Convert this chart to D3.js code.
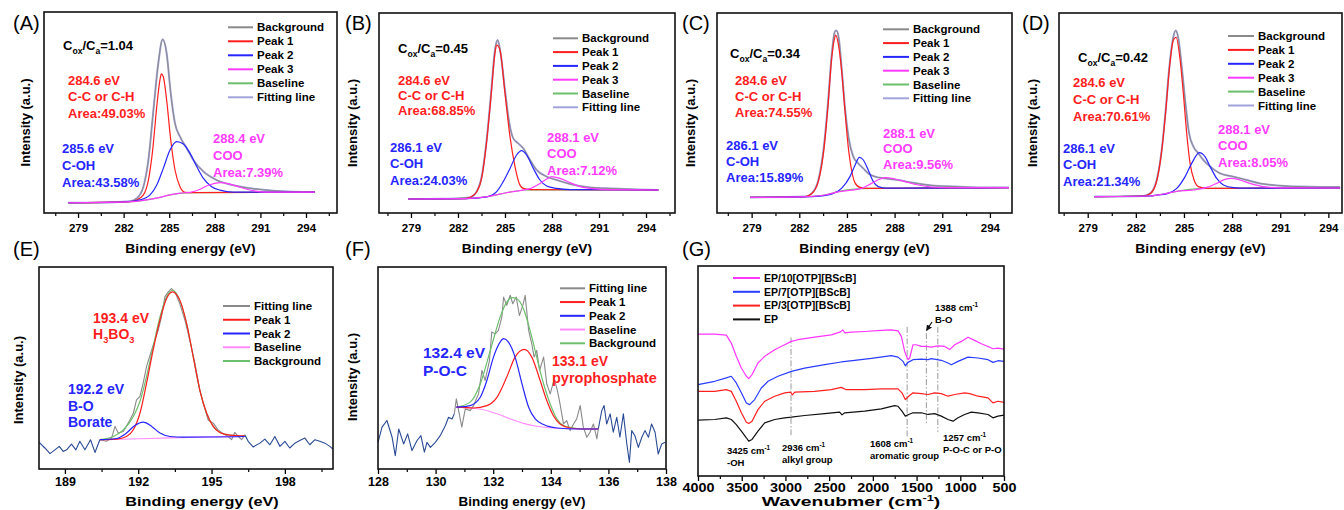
<!DOCTYPE html>
<html>
<head>
<meta charset="utf-8">
<script src="https://cdn.jsdelivr.net/npm/d3@7"></script>
<style>
  body { margin: 0; background: #fff; }
  svg { display: block; font-family: "Liberation Sans", Arial, sans-serif; }
</style>
</head>
<body>
<div id="chart"></div>
<script>
// ---------- data ----------
// XPS C1s panels (A-D): [binding energy eV, intensity a.u.]
const xpsTicks = [279, 282, 285, 288, 291, 294];
const xpsMinor = [277.5, 280.5, 283.5, 286.5, 289.5, 292.5, 295.5];

const aMeasured = [[278.36,5.1],[280.45,5.1],[282.42,5.8],[282.86,7.3],[283.3,13.1],[283.63,26.4],[283.96,51.2],[284.28,74.5],[284.57,86.4],[284.83,79.4],[285.1,59.5],[285.38,44.6],[285.71,38.0],[286.15,32.2],[286.59,26.4],[287.25,20.6],[288.12,16.4],[289.22,13.8],[290.54,12.1],[291.85,11.1],[293.17,10.6],[294.59,10.4]];
const aBase = [[278.36,5.1],[282.2,5.5],[283.52,6.5],[284.39,7.8],[285.05,9.0],[285.71,9.8],[286.59,10.1],[294.59,10.4]];
const aPeak1 = [[278.36,5.1],[282.2,5.5],[282.86,6.5],[283.3,9.0],[283.63,16.4],[283.91,31.3],[284.18,52.9],[284.39,66.2],[284.48,69.2],[284.61,67.8],[284.83,56.2],[285.1,36.3],[285.38,21.4],[285.71,13.1],[286.04,10.3],[286.59,10.1],[294.59,10.4]];
const aPeak2 = [[278.36,5.1],[282.2,5.6],[283.08,6.5],[283.74,9.0],[284.18,13.9],[284.61,22.2],[285.05,31.3],[285.49,35.5],[285.93,34.3],[286.37,29.7],[286.81,23.1],[287.25,17.2],[287.79,13.1],[288.34,11.4],[289.22,10.4],[294.59,10.4]];
const aPeak3 = [[278.36,5.1],[282.2,5.5],[283.52,6.5],[284.39,7.8],[285.05,9.0],[285.71,9.9],[286.37,10.3],[287.03,11.8],[287.57,13.8],[288.34,15.1],[289.0,14.4],[289.66,12.8],[290.54,11.1],[291.41,10.4],[294.59,10.4]];

const bMeasured = [[278.83,7.0],[281.0,7.1],[282.77,7.8],[283.19,10.7],[283.51,18.2],[283.83,36.5],[284.11,59.8],[284.36,81.5],[284.53,86.5],[284.72,79.8],[285.0,61.5],[285.28,44.8],[285.53,37.3],[285.85,34.8],[286.17,32.3],[286.6,26.5],[287.02,21.5],[287.66,18.2],[288.3,16.5],[289.15,14.5],[290.43,12.8],[291.91,12.2],[293.4,11.8],[294.79,11.5]];
const bBase = [[278.83,7.0],[282.5,7.2],[283.5,7.8],[284.3,8.8],[285.0,10.0],[285.7,11.0],[286.5,11.5],[288.0,11.6],[294.79,11.5]];
const bPeak1 = [[278.83,7.0],[282.5,7.2],[282.77,7.8],[283.19,10.5],[283.51,17.3],[283.83,35.7],[284.11,58.2],[284.36,79.8],[284.47,84.0],[284.68,81.5],[285.0,59.8],[285.32,38.2],[285.64,23.2],[285.91,14.8],[286.17,12.3],[286.6,11.7],[294.79,11.5]];
const bPeak2 = [[278.83,7.0],[282.5,7.2],[283.83,8.1],[284.47,10.7],[284.89,15.7],[285.32,22.3],[285.74,29.0],[286.06,31.2],[286.38,29.0],[286.81,22.3],[287.23,16.5],[287.66,13.5],[288.3,12.3],[289.15,11.7],[294.79,11.5]];
const bPeak3 = [[278.83,7.0],[282.5,7.2],[283.5,7.8],[284.3,8.8],[285.0,10.0],[285.96,11.2],[286.6,12.2],[287.23,14.8],[287.66,17.0],[287.98,18.2],[288.51,17.3],[289.15,15.2],[289.79,13.2],[290.64,12.2],[291.7,11.7],[294.79,11.5]];

const cMeasured = [[278.9,7.8],[282.36,8.2],[282.78,9.8],[283.2,16.5],[283.57,34.8],[283.82,56.5],[284.03,78.2],[284.24,90.7],[284.35,91.2],[284.5,86.5],[284.66,73.2],[284.87,53.2],[285.13,36.5],[285.4,28.2],[285.71,24.8],[286.03,22.3],[286.34,19.8],[286.76,18.2],[287.39,17.3],[288.23,16.5],[289.07,15.2],[290.33,13.8],[291.8,13.2],[293.26,12.8],[295.2,12.8]];
const cBase = [[278.9,7.8],[282.57,8.2],[283.62,9.0],[284.45,10.7],[285.29,11.8],[286.55,12.3],[295.2,12.7]];
const cPeak1 = [[278.9,7.8],[282.36,8.2],[282.78,9.6],[283.2,15.8],[283.57,33.2],[283.82,54.8],[284.03,76.5],[284.2,86.5],[284.29,89.0],[284.45,84.8],[284.66,71.5],[284.87,51.5],[285.08,33.2],[285.29,21.5],[285.5,15.2],[285.82,12.8],[286.34,12.3],[295.2,12.7]];
const cPeak2 = [[278.9,7.8],[282.57,8.2],[283.41,8.6],[284.03,9.4],[284.66,12.3],[285.19,18.2],[285.5,23.7],[285.78,27.8],[286.03,26.5],[286.34,21.5],[286.66,15.7],[286.97,13.2],[287.5,12.4],[288.23,12.4],[295.2,12.7]];
const cPeak3 = [[278.9,7.8],[282.57,8.2],[283.62,9.0],[284.45,10.6],[285.29,11.4],[285.92,12.3],[286.55,14.8],[287.08,17.0],[287.43,17.7],[288.02,17.0],[288.65,15.7],[289.49,14.0],[290.33,13.0],[291.38,12.7],[295.2,12.7]];

const dMeasured = [[279.42,8.2],[282.47,8.5],[282.89,9.8],[283.3,16.5],[283.61,31.5],[283.86,51.5],[284.09,73.2],[284.34,88.2],[284.49,91.2],[284.65,87.3],[284.86,73.2],[285.07,56.5],[285.32,39.8],[285.59,33.2],[285.9,29.8],[286.21,26.5],[286.63,23.2],[287.25,19.8],[288.08,18.2],[288.91,16.5],[289.74,14.8],[290.78,13.8],[292.23,13.2],[293.48,13.0],[294.73,13.0]];
const dBase = [[279.42,8.2],[282.89,8.5],[283.72,9.5],[284.55,10.8],[285.38,11.8],[286.42,12.3],[294.73,12.5]];
const dPeak1 = [[279.42,8.2],[282.47,8.5],[282.89,9.6],[283.3,16.0],[283.61,30.8],[283.86,50.5],[284.09,72.0],[284.34,86.5],[284.51,87.8],[284.76,76.5],[284.96,59.8],[285.17,39.8],[285.38,24.8],[285.63,16.5],[285.9,13.2],[286.42,12.3],[294.73,12.5]];
const dPeak2 = [[279.42,8.2],[282.89,8.5],[283.3,9.0],[283.92,9.6],[284.55,12.3],[285.07,18.2],[285.48,24.8],[285.96,30.2],[286.31,28.2],[286.63,23.2],[287.04,17.3],[287.46,14.0],[288.08,12.7],[288.91,12.4],[294.73,12.5]];
const dPeak3 = [[279.42,8.2],[282.89,8.5],[283.72,9.5],[284.55,10.8],[285.59,11.5],[286.42,12.8],[287.04,14.8],[287.56,16.8],[287.98,17.3],[288.5,16.5],[289.12,14.8],[289.95,13.2],[291.0,12.6],[294.73,12.5]];

// B1s panel (E)
const eTicks = [189, 192, 195, 198];
const eMinor = [190.5, 193.5, 196.5, 199.5];
const eSurveyL = [[187.95,13.2],[188.18,10.4],[188.39,7.6],[188.59,9.5],[188.77,11.2],[188.93,8.7],[189.07,9.5],[189.27,12.3],[189.45,9.5],[189.61,13.7],[189.82,9.5],[190.05,14.5],[190.23,8.2],[190.43,14.5]];
const eSurveyR = [[196.36,16.9],[196.5,13.7],[196.7,10.9],[196.98,12.8],[197.18,14.8],[197.39,12.0],[197.59,16.1],[197.8,11.2],[198.0,13.7],[198.2,10.4],[198.41,12.8],[198.61,14.1],[198.82,15.3],[199.02,12.0],[199.23,14.5],[199.43,13.7],[199.64,12.8],[199.84,11.2],[199.97,9.8]];
const eRaw = [[190.43,14.5],[190.7,13.7],[190.91,15.3],[191.05,21.1],[191.18,17.8],[191.39,18.6],[191.59,22.7],[191.8,27.6],[191.93,34.2],[192.07,35.9],[192.2,42.4],[192.34,50.7],[192.55,58.9],[192.68,63.8],[192.82,68.8],[192.95,75.3],[193.09,85.2],[193.23,87.7],[193.36,89.3],[193.5,87.7],[193.7,81.9],[193.91,73.7],[194.11,63.8],[194.32,52.3],[194.52,39.1],[194.66,32.6],[194.86,24.3],[195.07,22.7],[195.27,19.4],[195.48,17.4],[195.68,16.1],[195.82,14.5],[195.95,18.1],[196.09,16.1],[196.23,14.5],[196.36,16.9]];
const eEnv = [[190.43,14.5],[190.98,16.1],[191.39,19.4],[191.8,26.0],[192.07,33.4],[192.34,45.7],[192.61,60.5],[192.89,75.3],[193.16,85.2],[193.4,88.5],[193.7,83.6],[193.98,72.0],[194.25,55.6],[194.52,39.1],[194.8,27.6],[195.07,21.1],[195.34,18.1],[195.75,16.8],[196.36,16.4]];
const ePeak1 = [[190.43,14.5],[191.11,14.8],[191.52,16.1],[191.8,19.4],[192.07,27.6],[192.34,42.4],[192.61,58.9],[192.89,73.7],[193.16,84.4],[193.4,87.7],[193.7,83.6],[193.98,72.0],[194.25,55.6],[194.52,39.1],[194.8,27.6],[195.07,21.1],[195.34,18.1],[195.75,16.8],[196.36,16.4]];
const ePeak2 = [[190.43,14.5],[191.11,15.1],[191.52,17.8],[191.86,21.5],[192.2,23.2],[192.55,21.1],[192.89,17.8],[193.3,16.1],[193.84,15.8],[196.36,16.1]];
const eBase = [[190.43,14.5],[192.47,15.1],[194.52,15.8],[196.36,16.1]];

// P2p panel (F)
const fTicks = [128, 130, 132, 134, 136, 138];
const fMinor = [129, 131, 133, 135, 137];
const fSurveyL = [[128.0,13.2],[128.14,20.7],[128.31,24.0],[128.49,15.7],[128.6,6.6],[128.72,19.8],[128.89,12.4],[129.03,17.4],[129.18,9.1],[129.35,14.0],[129.49,16.5],[129.61,8.3],[129.7,13.2],[129.82,10.7],[129.99,13.2],[130.16,16.5],[130.34,21.5],[130.45,25.6],[130.57,24.8],[130.65,27.3]];
const fSurveyR = [[135.65,19.8],[135.77,28.9],[135.85,31.4],[135.94,22.3],[136.06,27.3],[136.17,18.2],[136.29,25.6],[136.4,15.7],[136.52,27.3],[136.64,12.4],[136.73,3.3],[136.81,19.0],[136.92,16.5],[137.04,10.7],[137.16,15.7],[137.27,19.0],[137.39,15.7],[137.5,22.3],[137.62,18.2],[137.73,7.4],[137.85,12.4],[137.97,13.2]];
const fRaw = [[130.65,27.3],[130.72,34.7],[130.8,28.9],[130.91,20.7],[131.03,29.8],[131.2,28.9],[131.32,31.4],[131.49,37.2],[131.61,48.8],[131.72,43.8],[131.87,53.7],[131.95,67.8],[132.07,66.9],[132.18,68.6],[132.3,75.2],[132.36,85.1],[132.47,81.0],[132.59,86.0],[132.68,81.8],[132.8,85.1],[132.91,76.0],[133.03,81.0],[133.11,86.0],[133.23,68.6],[133.34,62.0],[133.42,55.4],[133.51,58.7],[133.61,48.8],[133.75,55.4],[133.86,42.1],[133.98,37.2],[134.12,44.6],[134.23,38.8],[134.32,32.2],[134.44,22.3],[134.55,24.0],[134.67,19.0],[134.79,22.3],[134.9,24.8],[135.02,31.4],[135.13,20.7],[135.25,15.7],[135.36,18.2],[135.48,22.3],[135.6,14.9],[135.65,19.8]];
const fEnv = [[130.72,30.6],[131.2,33.1],[131.55,42.1],[131.9,58.7],[132.24,75.2],[132.47,82.6],[132.65,84.8],[132.82,84.3],[133.05,79.3],[133.28,68.6],[133.51,55.4],[133.75,42.1],[133.98,32.2],[134.21,24.8],[134.44,21.5],[134.79,20.3],[135.13,19.8],[135.65,19.8]];
const fPeak2 = [[130.72,30.6],[131.2,31.4],[131.55,35.5],[131.78,43.8],[132.01,55.4],[132.24,62.8],[132.36,64.5],[132.53,62.8],[132.76,55.4],[133.0,42.1],[133.23,30.6],[133.46,24.8],[133.75,22.0],[134.21,20.3],[134.9,19.8],[135.65,19.8]];
const fPeak1 = [[130.72,30.6],[131.32,30.2],[131.78,31.4],[132.13,35.5],[132.47,45.5],[132.76,55.4],[133.08,59.2],[133.34,55.4],[133.63,43.8],[133.86,33.9],[134.09,26.4],[134.32,22.3],[134.67,20.3],[135.13,19.8],[135.65,19.8]];
const fBase = [[130.72,30.6],[131.2,30.2],[131.66,29.3],[132.13,27.3],[132.59,24.8],[133.05,22.6],[133.51,21.2],[134.21,20.2],[135.65,19.8]];

// FTIR panel (G): [wavenumber cm-1, transmittance a.u.]
const gTicks = [4000, 3500, 3000, 2500, 2000, 1500, 1000, 500];
const gMinor = [3750, 3250, 2750, 2250, 1750, 1250, 750];
const gEP10 = [[4000,67.6],[3809,67.6],[3676,67.1],[3619,63.3],[3562,57.0],[3504,51.4],[3447,47.5],[3420,46.4],[3382,48.3],[3314,53.8],[3237,57.0],[3123,60.1],[3009,62.5],[2932,64.1],[2856,64.9],[2666,66.1],[2475,67.2],[2370,68.6],[2345,69.6],[2322,68.2],[2246,68.5],[2094,68.8],[1903,69.3],[1789,69.6],[1712,69.1],[1674,66.5],[1636,59.3],[1598,55.4],[1579,56.2],[1541,62.5],[1503,62.5],[1446,61.7],[1388,61.7],[1331,61.4],[1255,62.0],[1179,61.7],[1121,60.2],[1064,62.5],[988,64.1],[912,66.1],[836,64.6],[759,63.0],[683,61.7],[626,60.6],[569,60.9],[500,60.4]];
const gEP7 = [[4000,43.5],[3809,45.1],[3676,46.7],[3619,47.5],[3562,44.3],[3504,39.6],[3447,34.8],[3409,34.0],[3352,36.4],[3276,41.9],[3199,45.1],[3085,47.5],[2932,49.8],[2780,51.4],[2551,53.0],[2361,54.3],[2208,55.1],[2017,56.0],[1789,57.3],[1712,56.6],[1655,54.6],[1629,52.5],[1598,54.1],[1541,55.4],[1446,55.7],[1369,55.4],[1331,55.9],[1217,55.1],[1141,53.8],[1102,53.0],[1026,54.6],[912,56.6],[797,56.2],[683,55.4],[626,54.1],[569,54.9],[500,54.6]];
const gEP3 = [[4000,40.3],[3809,40.3],[3676,41.1],[3619,40.3],[3562,35.6],[3504,30.1],[3447,25.6],[3420,25.0],[3382,26.1],[3314,31.6],[3237,35.6],[3123,38.0],[3009,39.6],[2940,39.9],[2921,38.6],[2894,39.9],[2666,40.3],[2475,41.1],[2361,42.2],[2303,41.1],[2094,41.1],[1903,41.5],[1712,41.5],[1667,39.6],[1629,36.4],[1590,38.0],[1541,39.6],[1446,39.2],[1369,38.8],[1293,39.6],[1217,39.2],[1141,38.0],[1064,38.8],[950,39.6],[893,39.2],[797,38.0],[683,37.2],[626,34.8],[569,35.6],[500,35.1]];
const gEP = [[4000,26.6],[3809,26.9],[3676,27.7],[3619,26.9],[3562,24.5],[3504,21.4],[3447,18.2],[3420,16.6],[3382,17.4],[3314,21.4],[3237,25.3],[3123,26.9],[3009,27.7],[2932,28.0],[2780,28.8],[2551,29.7],[2380,30.4],[2353,29.1],[2322,30.1],[2094,30.9],[1903,32.0],[1751,33.5],[1712,33.2],[1667,30.9],[1629,28.5],[1590,29.3],[1541,30.1],[1446,30.1],[1369,29.3],[1293,29.7],[1217,28.5],[1141,26.9],[1083,26.1],[1026,27.7],[950,29.3],[874,30.4],[797,30.1],[683,29.3],[626,27.7],[569,28.5],[500,29.0]];
const gMarkWn = [2936, 1608, 1388, 1257];
const gMarkTop = [66, 71, 68, 71];
const gMarkBot = [19.5, 18, 25, 21];

// ---------- drawing ----------
const RED = "#ff1e1e", BLUE = "#2626ff", MAG = "#ff3cff", GREEN = "#6cbf6c",
      GREY = "#8a8a8a", LAV = "#a3a3dc", NAVY = "#2a4b96", PINK = "#ff8cff";
const FONT = '"Liberation Sans", Arial, sans-serif';

const svg = d3.select("#chart").append("svg")
  .attr("width", 1344).attr("height", 510);
svg.append("rect").attr("width", 1344).attr("height", 510).attr("fill", "#fff");

function txt(x, y, parts, o = {}) {
  const size = o.size || 13;
  let tf = `translate(${x},${y})`;
  if (o.rot) tf += ` rotate(${o.rot})`;
  if (o.sx) tf += ` scale(${o.sx},1)`;
  const t = svg.append("text")
    .attr("transform", tf)
    .attr("font-family", FONT)
    .attr("font-size", size)
    .attr("font-weight", o.weight || "bold")
    .attr("fill", o.color || "#000")
    .attr("text-anchor", o.anchor || "start");
  if (typeof parts === "string") parts = [[parts]];
  let shift = 0;
  parts.forEach(([s, m]) => {
    const want = m === "sub" ? size * 0.32 : m === "sup" ? -size * 0.42 : 0;
    t.append("tspan")
      .attr("dy", (want - shift).toFixed(2))
      .attr("font-size", m ? size * 0.66 : size)
      .text(s);
    shift = want;
  });
  return t;
}

function makePanel(p) {
  const x = d3.scaleLinear().domain(p.dom).range([p.x0, p.x1]);
  const y = d3.scaleLinear().domain([0, 100]).range([p.y1, p.y0]);
  // minor ticks
  const mi = svg.append("g").attr("transform", `translate(0,${p.y1})`)
    .call(d3.axisBottom(x).tickValues(p.minor.filter(v => x(v) > p.x0 + 1 && x(v) < p.x1 - 1)).tickSize(3).tickFormat(""));
  mi.select(".domain").remove();
  mi.selectAll("line").attr("stroke-width", 1.2);
  // major ticks + labels
  const ma = svg.append("g").attr("transform", `translate(0,${p.y1})`)
    .call(d3.axisBottom(x).tickValues(p.major).tickSize(5).tickFormat(d3.format("d")));
  ma.select(".domain").remove();
  ma.selectAll("line").attr("stroke-width", 1.3);
  ma.selectAll("text")
    .attr("y", p.tickY).attr("dy", null)
    .attr("font-family", FONT).attr("font-weight", "bold")
    .attr("font-size", p.tickSize).attr("fill", "#000")
    .attr("transform", p.tickSx ? `scale(${p.tickSx},1)` : null);
  return { x, y };
}

function frame(p) {
  svg.append("rect")
    .attr("x", p.x0).attr("y", p.y0)
    .attr("width", p.x1 - p.x0).attr("height", p.y1 - p.y0)
    .attr("fill", "none").attr("stroke", "#111").attr("stroke-width", 1.6);
}

function curve(s, data, color, w, smooth) {
  const line = d3.line()
    .x(d => s.x(d[0])).y(d => s.y(d[1]))
    .curve(smooth ? d3.curveMonotoneX : d3.curveLinear);
  svg.append("path").datum(data)
    .attr("d", line)
    .attr("fill", "none").attr("stroke", color)
    .attr("stroke-width", w).attr("stroke-linejoin", "round");
}

function legend(lx, tx, y0, dy, items, size) {
  items.forEach(([label, color], i) => {
    const yy = y0 + i * dy;
    svg.append("line").attr("x1", lx).attr("x2", tx - 4)
      .attr("y1", yy).attr("y2", yy)
      .attr("stroke", color).attr("stroke-width", 2);
    txt(tx, yy + size * 0.36, label, { size });
  });
}

function lines3(x, yc, rows, color, size, gap) {
  rows.forEach((r, i) => txt(x, yc + i * gap + size * 0.36, r, { size, color }));
}

// ---------- XPS C1s panels ----------
const xpsPanels = [
  { id: "(A)", lx: 13, x0: 44, x1: 337, y0: 12, y1: 213, dom: [276.76, 296.04], yt: 25,
    measured: aMeasured, base: aBase, p1: aPeak1, p2: aPeak2, p3: aPeak3,
    ratio: "1.04", cox: [63, 45],
    red: [68, 80, 16.5, ["284.6 eV", "C-C or C-H", "Area:49.03%"]],
    blue: [62, 148, 17, ["285.6 eV", "C-OH", "Area:43.58%"]],
    mag: [213, 138, 17, ["288.4 eV", "COO", "Area:7.39%"]],
    leg: [228, 257, 27.3, 14] },
  { id: "(B)", lx: 345, x0: 379, x1: 675, y0: 13, y1: 213, dom: [276.96, 295.85], yt: 352,
    measured: bMeasured, base: bBase, p1: bPeak1, p2: bPeak2, p3: bPeak3,
    ratio: "0.45", cox: [398, 48],
    red: [398, 80, 15.2, ["284.6 eV", "C-C or C-H", "Area:68.85%"]],
    blue: [390, 147, 16.5, ["286.1 eV", "C-OH", "Area:24.03%"]],
    mag: [547, 137, 16.5, ["288.1 eV", "COO", "Area:7.12%"]],
    leg: [553, 582, 38.3, 13.8] },
  { id: "(C)", lx: 682, x0: 717, x1: 1012, y0: 13, y1: 213, dom: [276.82, 295.39], yt: 690,
    measured: cMeasured, base: cBase, p1: cPeak1, p2: cPeak2, p3: cPeak3,
    ratio: "0.34", cox: [730, 53],
    red: [735, 80, 16, ["284.6 eV", "C-C or C-H", "Area:74.55%"]],
    blue: [726, 145, 16, ["286.1 eV", "C-OH", "Area:15.89%"]],
    mag: [883, 133, 15.5, ["288.1 eV", "COO", "Area:9.56%"]],
    leg: [883, 913, 29.3, 13.8] },
  { id: "(D)", lx: 1022, x0: 1059, x1: 1342, y0: 13, y1: 213, dom: [277.21, 294.85], yt: 1032,
    measured: dMeasured, base: dBase, p1: dPeak1, p2: dPeak2, p3: dPeak3,
    ratio: "0.42", cox: [1078, 57],
    red: [1073, 82, 17, ["284.6 eV", "C-C or C-H", "Area:70.61%"]],
    blue: [1063, 148, 16.5, ["286.1 eV", "C-OH", "Area:21.34%"]],
    mag: [1218, 129, 16.5, ["288.1 eV", "COO", "Area:8.05%"]],
    leg: [1228, 1258, 36, 13.9] }
];

xpsPanels.forEach(p => {
  const s = makePanel({ ...p, major: xpsTicks, minor: xpsMinor, tickY: 19, tickSize: 11.5 });
  curve(s, p.measured, LAV, 2, true);
  curve(s, p.measured, GREY, 1.0, true);
  curve(s, p.base, GREEN, 1.2, true);
  curve(s, p.p1, RED, 1.2, true);
  curve(s, p.p2, BLUE, 1.2, true);
  curve(s, p.p3, MAG, 1.2, true);
  frame(p);
  txt(p.lx, 30, p.id, { size: 20, weight: "normal" });
  txt(p.yt, (p.y0 + p.y1) / 2 + 10, "Intensity (a.u.)", { size: 13, rot: -90, anchor: "middle" })
    .attr("dominant-baseline", "central");
  txt((p.x0 + p.x1) / 2, 253, "Binding energy (eV)", { size: 12, anchor: "middle", sx: 1.15 });
  txt(p.cox[0], p.cox[1] + 4.5, [["C"], ["ox", "sub"], ["/C"], ["a", "sub"], ["=" + p.ratio]], { size: 13 });
  lines3(p.red[0], p.red[1], p.red[3], RED, 13, p.red[2]);
  lines3(p.blue[0], p.blue[1], p.blue[3], BLUE, 13, p.blue[2]);
  lines3(p.mag[0], p.mag[1], p.mag[3], MAG, 13, p.mag[2]);
  legend(p.leg[0], p.leg[1], p.leg[2], p.leg[3],
    [["Background", GREY], ["Peak 1", RED], ["Peak 2", BLUE], ["Peak 3", MAG], ["Baseline", GREEN], ["Fitting line", LAV]], 11.5);
});

// ---------- (E) B1s ----------
const pE = { x0: 39, x1: 333, y0: 267, y1: 469, dom: [187.94, 199.97], major: eTicks, minor: eMinor, tickY: 17, tickSize: 12.5 };
const sE = makePanel(pE);
curve(sE, eSurveyL, NAVY, 1.1, false);
curve(sE, eSurveyR, NAVY, 1.1, false);
curve(sE, eRaw, GREY, 1.1, false);
curve(sE, eEnv, GREEN, 1.2, true);
curve(sE, eBase, PINK, 1.1, true);
curve(sE, ePeak1, RED, 1.2, true);
curve(sE, ePeak2, BLUE, 1.2, true);
frame(pE);
txt(13, 256, "(E)", { size: 20, weight: "normal" });
txt(18, 380, "Intensity (a.u.)", { size: 13, rot: -90, anchor: "middle" }).attr("dominant-baseline", "central");
txt(202, 506, "Binding energy (eV)", { size: 12.5, anchor: "middle", sx: 1.3 });
txt(93, 318 + 5, "193.4 eV", { size: 14, color: RED });
txt(93, 334 + 5, [["H"], ["3", "sub"], ["BO"], ["3", "sub"]], { size: 14, color: RED });
lines3(68, 389, ["192.2 eV", "B-O", "Borate"], BLUE, 14, 16.5);
legend(223, 254, 306, 13.75, [["Fitting line", GREY], ["Peak 1", RED], ["Peak 2", BLUE], ["Baseline", PINK], ["Background", GREEN]], 11.5);

// ---------- (F) P2p ----------
const pF = { x0: 378, x1: 666, y0: 267, y1: 469, dom: [128, 138], major: fTicks, minor: fMinor, tickY: 17, tickSize: 12.5 };
const sF = makePanel(pF);
curve(sF, fSurveyL, NAVY, 1.1, false);
curve(sF, fSurveyR, NAVY, 1.1, false);
curve(sF, fRaw, GREY, 1.1, false);
curve(sF, fEnv, GREEN, 1.2, true);
curve(sF, fBase, PINK, 1.1, true);
curve(sF, fPeak1, RED, 1.2, true);
curve(sF, fPeak2, BLUE, 1.2, true);
frame(pF);
txt(345, 256, "(F)", { size: 20, weight: "normal" });
txt(352, 377, "Intensity (a.u.)", { size: 13, rot: -90, anchor: "middle" }).attr("dominant-baseline", "central");
txt(522, 506, "Binding energy (eV)", { size: 12, anchor: "middle", sx: 1.12 });
txt(423, 352 + 5.5, "132.4 eV", { size: 15.5, color: BLUE });
txt(423, 370 + 5.5, "P-O-C", { size: 15.5, color: BLUE });
txt(552, 361 + 5, "133.1 eV", { size: 14, color: RED });
txt(552, 378 + 5, "pyrophosphate", { size: 14.5, color: RED });
legend(560, 589, 288.3, 13.75, [["Fitting line", GREY], ["Peak 1", RED], ["Peak 2", BLUE], ["Baseline", PINK], ["Background", GREEN]], 11.5);

// ---------- (G) FTIR ----------
const pG = { x0: 698, x1: 1004, y0: 266, y1: 476, dom: [4000, 500], major: gTicks, minor: gMinor, tickY: 16, tickSize: 12, tickSx: 1.2 };
const sG = makePanel(pG);
gMarkWn.forEach((w, i) => {
  svg.append("line")
    .attr("x1", sG.x(w)).attr("x2", sG.x(w))
    .attr("y1", sG.y(gMarkTop[i])).attr("y2", sG.y(gMarkBot[i]))
    .attr("stroke", "#9a9a9a").attr("stroke-width", 1)
    .attr("stroke-dasharray", "6,2,1.5,2");
});
curve(sG, gEP, "#111", 1.2, false);
curve(sG, gEP3, "#ff2020", 1.2, false);
curve(sG, gEP7, "#2a3cff", 1.2, false);
curve(sG, gEP10, "#ff36ff", 1.2, false);
frame(pG);
txt(682, 256, "(G)", { size: 20, weight: "normal" });
txt(851, 506, [["Wavenubmer (cm"], ["-1", "sup"], [")"]], { size: 12.5, anchor: "middle", sx: 1.55 });
legend(733, 764, 278, 13.8, [["EP/10[OTP][BScB]", "#ff36ff"], ["EP/7[OTP][BScB]", "#2a3cff"], ["EP/3[OTP][BScB]", "#ff2020"], ["EP", "#111"]], 10.5);
const gNotes = [
  [727, 453.5, "3425 cm", "-OH"],
  [782, 451, "2936 cm", "alkyl group"],
  [870, 447, "1608 cm", "aromatic group"],
  [943, 441, "1257 cm", "P-O-C or P-O"],
  [935, 311, "1388 cm", "B-O"]
];
gNotes.forEach(([x, yb, a, b]) => {
  txt(x, yb, [[a], ["-1", "sup"]], { size: 9.5 });
  txt(x, yb + 12, b, { size: 9.5 });
});
svg.append("defs").append("marker").attr("id", "ah")
  .attr("viewBox", "0 0 10 10").attr("refX", 9).attr("refY", 5)
  .attr("markerWidth", 5).attr("markerHeight", 5).attr("orient", "auto")
  .append("path").attr("d", "M0,0L10,5L0,10z").attr("fill", "#111");
svg.append("line").attr("x1", 932).attr("y1", 322).attr("x2", 926.5).attr("y2", 330.5)
  .attr("stroke", "#111").attr("stroke-width", 1.2).attr("marker-end", "url(#ah)");
</script>
</body>
</html>
